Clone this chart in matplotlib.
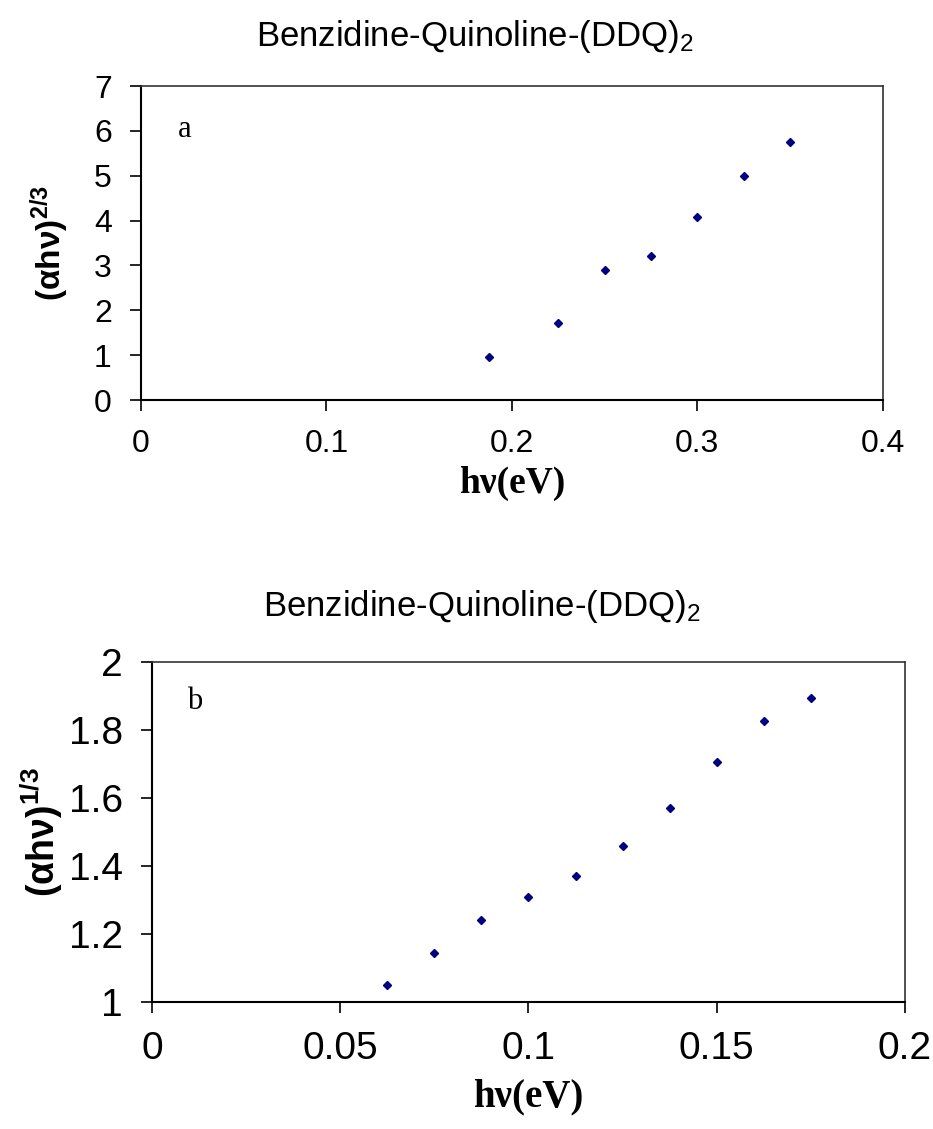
import matplotlib
matplotlib.use('Agg')
import matplotlib.pyplot as plt

plt.rcParams['font.family'] = ['Liberation Sans', 'DejaVu Sans']
plt.rcParams['mathtext.fontset'] = 'custom'
plt.rcParams['mathtext.rm'] = 'Liberation Sans'
plt.rcParams['mathtext.bf'] = 'Liberation Sans:bold'
plt.rcParams['mathtext.default'] = 'regular'

# panel a data
hv_a = [0.1875, 0.225, 0.25, 0.275, 0.3, 0.325, 0.35]
y_a = [0.95, 1.71, 2.90, 3.21, 4.08, 5.0, 5.76]
xticks_a = [0, 0.1, 0.2, 0.3, 0.4]
yticks_a = [0, 1, 2, 3, 4, 5, 6, 7]

# panel b data
hv_b = [0.0625, 0.075, 0.0875, 0.1, 0.1125, 0.125, 0.1375, 0.15, 0.1625, 0.175]
y_b = [1.049, 1.145, 1.240, 1.310, 1.370, 1.458, 1.572, 1.705, 1.827, 1.895]
xticks_b = [0, 0.05, 0.1, 0.15, 0.2]
yticks_b = [1, 1.2, 1.4, 1.6, 1.8, 2]

title = 'Benzidine-Quinoline-(DDQ)$_2$'

fig = plt.figure(figsize=(9.33, 11.29), dpi=100)
ax1 = fig.add_axes([0.1511, 0.6457, 0.795, 0.278])
ax2 = fig.add_axes([0.1629, 0.1125, 0.807, 0.301])


def style(ax, xt, yt, ylab, tsize, xlsize, ylsize, letter, lpos, xlab_y, ylab_x):
    ax.set_xticks(xt)
    ax.set_yticks(yt)
    ax.set_xticklabels(['%g' % v for v in xt])
    ax.set_yticklabels(['%g' % v for v in yt])
    ax.set_xlim(xt[0], xt[-1])
    ax.set_ylim(yt[0], yt[-1])
    ax.tick_params(axis='both', direction='out', length=8, width=1.2,
                   labelsize=tsize, colors='black')
    ax.tick_params(axis='x', pad=13)
    ax.tick_params(axis='y', pad=13)
    for s in ['left', 'bottom']:
        ax.spines[s].set_linewidth(1.5)
        ax.spines[s].set_color('black')
    for s in ['top', 'right']:
        ax.spines[s].set_linewidth(1.2)
        ax.spines[s].set_color('#333333')
    ax.set_xlabel('hν(eV)', family='Liberation Serif', fontweight='bold',
                  fontsize=xlsize, va='center')
    ax.xaxis.set_label_coords(0.5, xlab_y)
    ax.set_ylabel(ylab, fontweight='bold', fontsize=ylsize, va='center')
    ax.yaxis.set_label_coords(ylab_x, 0.5)
    ax.text(lpos[0], lpos[1], letter, transform=ax.transAxes, family='Liberation Serif',
            fontsize=22, va='center', ha='center')


ax1.plot(hv_a, y_a, linestyle='none', marker='D', markersize=3.8, color='#000080')
style(ax1, xticks_a, yticks_a, '(αhν)$^{\\mathbf{2/3}}$', 23, 27, 24, 'a',
      (0.059, 0.863), -0.265, -0.123)
fig.text(0.509, 0.968, title, ha='center', va='center', fontsize=25)

ax2.plot(hv_b, y_b, linestyle='none', marker='D', markersize=3.8, color='#000080')
style(ax2, xticks_b, yticks_b, '(αhν)$^{\\mathbf{1/3}}$', 28, 28, 27, 'b',
      (0.057, 0.885), -0.28, -0.146)
fig.text(0.516, 0.4624, title, ha='center', va='center', fontsize=25)

fig.savefig('out.png', dpi=100)
